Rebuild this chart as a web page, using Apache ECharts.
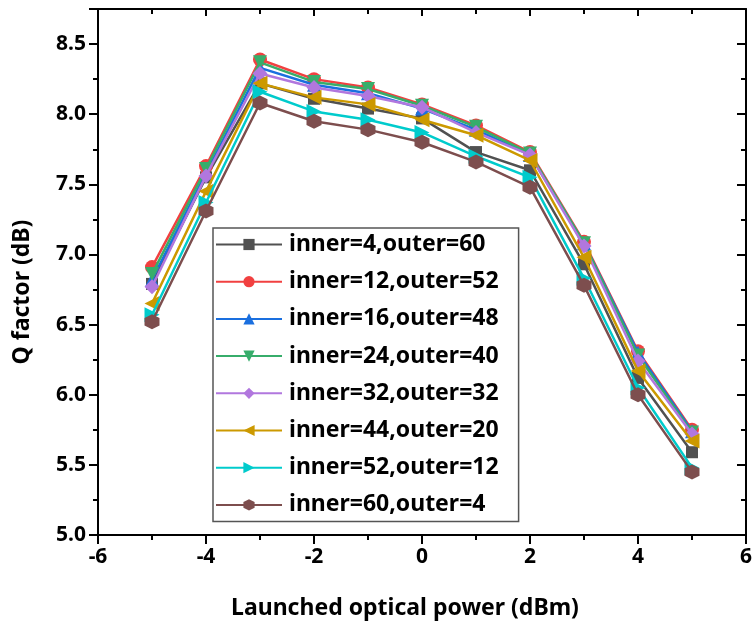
<!DOCTYPE html>
<html>
<head>
<meta charset="utf-8">
<script src="https://cdn.jsdelivr.net/npm/echarts@6/dist/echarts.min.js"></script>
<style>html,body{margin:0;padding:0;background:#fff}#c{width:755px;height:630px}</style>
</head>
<body>
<div id="c"></div>
<script>
const xValues = [-5, -4, -3, -2, -1, 0, 1, 2, 3, 4, 5];
const seriesNames = [
  'inner=4,outer=60', 'inner=12,outer=52', 'inner=16,outer=48', 'inner=24,outer=40',
  'inner=32,outer=32', 'inner=44,outer=20', 'inner=52,outer=12', 'inner=60,outer=4'
];
const q_4_60  = [6.79, 7.55, 8.22, 8.11, 8.04, 7.97, 7.73, 7.60, 6.93, 6.12, 5.59];
const q_12_52 = [6.91, 7.63, 8.39, 8.25, 8.19, 8.07, 7.92, 7.73, 7.09, 6.31, 5.75];
const q_16_48 = [6.82, 7.58, 8.33, 8.21, 8.15, 8.04, 7.89, 7.71, 7.08, 6.30, 5.74];
const q_24_40 = [6.86, 7.61, 8.37, 8.23, 8.18, 8.06, 7.91, 7.72, 7.08, 6.28, 5.73];
const q_32_32 = [6.77, 7.56, 8.29, 8.19, 8.13, 8.05, 7.87, 7.71, 7.06, 6.24, 5.72];
const q_44_20 = [6.65, 7.45, 8.22, 8.12, 8.07, 7.96, 7.85, 7.67, 6.98, 6.17, 5.67];
const q_52_12 = [6.57, 7.37, 8.16, 8.02, 7.96, 7.87, 7.70, 7.55, 6.83, 6.05, 5.48];
const q_60_4  = [6.52, 7.31, 8.08, 7.95, 7.89, 7.80, 7.66, 7.48, 6.78, 6.00, 5.45];
const allValues = [q_4_60, q_12_52, q_16_48, q_24_40, q_32_32, q_44_20, q_52_12, q_60_4];
const xTicks = [-6, -4, -2, 0, 2, 4, 6];
const yTicks = [5.0, 5.5, 6.0, 6.5, 7.0, 7.5, 8.0, 8.5];

const colors = ['#515151', '#F14040', '#1A6FDF', '#37AD6B', '#B177DE', '#CC9900', '#00CBCC', '#7D4E4E'];
const hexagon = 'path://M0,-1L0.866,-0.5L0.866,0.5L0,1L-0.866,0.5L-0.866,-0.5Z';
const symbols = ['rect', 'circle', 'triangle', 'triangle', 'diamond', 'triangle', 'triangle', hexagon];
const rotates = [0, 0, 0, 180, 0, 90, -90, 0];
const sizes = [12, 14, 14, 14, 15, 15, 15, 15];

const font = '"Noto Sans", "Open Sans", sans-serif';
const chart = echarts.init(document.getElementById('c'), null, {renderer: 'canvas'});

const series = seriesNames.map((n, i) => ({
  name: n,
  type: 'line',
  data: xValues.map((x, j) => [x, allValues[i][j]]),
  symbol: symbols[i],
  symbolRotate: rotates[i],
  symbolSize: sizes[i],
  color: colors[i],
  lineStyle: {width: 2.5, color: colors[i]},
  itemStyle: {color: colors[i]},
  xAxisIndex: 0,
  yAxisIndex: 0,
  animation: false,
  z: 2 + i
}));

const axisCommon = {
  axisLine: {show: true, onZero: false, lineStyle: {color: '#000', width: 2}},
  splitLine: {show: false}
};

chart.setOption({
  animation: false,
  backgroundColor: '#fff',
  grid: {left: 98, right: 2, top: 9, bottom: 95, containLabel: false},
  legend: {
    orient: 'vertical',
    left: 213,
    top: 228,
    itemWidth: 66,
    itemHeight: 14,
    itemGap: 14.2,
    padding: [5, 20, 5, 2],
    borderColor: '#555',
    borderWidth: 1.5,
    backgroundColor: '#fff',
    textStyle: {fontFamily: font, fontWeight: 'bold', fontSize: 23, color: '#000', padding: [0, 0, 0, 2]},
    data: seriesNames
  },
  xAxis: [{
    ...axisCommon,
    type: 'value', position: 'bottom',
    min: xTicks[0], max: xTicks[xTicks.length - 1], interval: 2,
    name: 'Launched optical power (dBm)',
    nameLocation: 'middle', nameGap: 62,
    nameTextStyle: {fontFamily: font, fontWeight: 'bold', fontSize: 23, color: '#000', padding: [0, 34, 0, 0]},
    axisTick: {show: true, length: 9, lineStyle: {width: 2, color: '#000'}},
    minorTick: {show: true, splitNumber: 2, length: 5, lineStyle: {width: 2, color: '#000'}},
    axisLabel: {fontFamily: font, fontWeight: 'bold', fontSize: 21, color: '#000', margin: 12}
  }, {
    ...axisCommon,
    type: 'value', position: 'top',
    min: xTicks[0], max: xTicks[xTicks.length - 1], interval: 2,
    axisTick: {show: true, inside: true, length: 7, lineStyle: {width: 2, color: '#000'}},
    minorTick: {show: true, splitNumber: 2, length: 5, lineStyle: {width: 2, color: '#000'}},
    axisLabel: {show: false}
  }],
  yAxis: [{
    ...axisCommon,
    type: 'value', position: 'left',
    min: yTicks[0], max: 8.75, interval: 0.5,
    name: 'Q factor (dB)',
    nameLocation: 'middle', nameGap: 64,
    nameTextStyle: {fontFamily: font, fontWeight: 'bold', fontSize: 23, color: '#000', padding: [0, 40, 0, 0]},
    axisTick: {show: true, length: 9, lineStyle: {width: 2, color: '#000'}},
    minorTick: {show: true, splitNumber: 2, length: 5, lineStyle: {width: 2, color: '#000'}},
    axisLabel: {fontFamily: font, fontWeight: 'bold', fontSize: 21, color: '#000', margin: 12,
      formatter: v => (v <= yTicks[yTicks.length - 1] + 1e-9 ? v.toFixed(1) : '')}
  }, {
    ...axisCommon,
    type: 'value', position: 'right',
    min: yTicks[0], max: 8.75, interval: 0.5,
    axisTick: {show: true, inside: true, length: 9, lineStyle: {width: 2, color: '#000'}},
    minorTick: {show: true, splitNumber: 2, length: 5, lineStyle: {width: 2, color: '#000'}},
    axisLabel: {show: false}
  }],
  series: series
});
</script>
</body>
</html>
